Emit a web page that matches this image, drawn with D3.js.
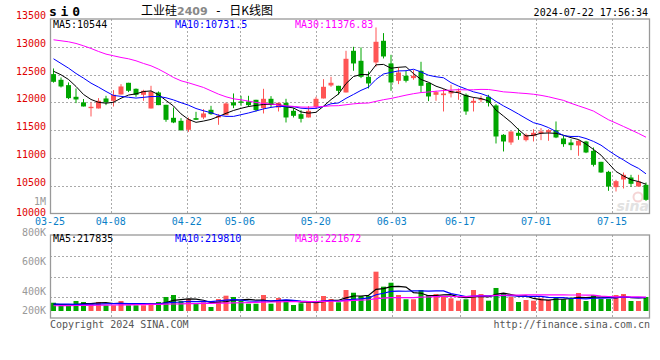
<!DOCTYPE html>
<html><head><meta charset="utf-8">
<script src="https://cdn.jsdelivr.net/npm/d3@7"></script>
<style>body{margin:0;background:#fff}svg{display:block}</style>
</head><body>
<svg id="c" width="660" height="360"></svg>
<script>
const dates = ["03-25","03-26","03-27","03-28","03-29","04-01","04-02","04-03","04-08","04-09","04-10","04-11","04-12","04-15","04-16","04-17","04-18","04-19","04-22","04-23","04-24","04-25","04-26","04-29","04-30","05-06","05-07","05-08","05-09","05-10","05-13","05-14","05-15","05-16","05-17","05-20","05-21","05-22","05-23","05-24","05-27","05-28","05-29","05-30","05-31","06-03","06-04","06-05","06-06","06-07","06-11","06-12","06-13","06-14","06-17","06-18","06-19","06-20","06-21","06-24","06-25","06-26","06-27","06-28","07-01","07-02","07-03","07-04","07-05","07-08","07-09","07-10","07-11","07-12","07-15","07-16","07-17","07-18","07-19","07-22"];
const open = [12508,12406,12310,12100,12000,11896,11890,12070,12028,12142,12352,12244,12136,11890,12178,11956,11722,11668,11506,11716,11728,11866,11728,11770,12000,12016,12016,12046,11896,12064,11908,11992,11848,11788,11728,11920,12070,12304,12298,12178,12928,12748,12460,12718,13108,12700,12388,12478,12436,12568,12352,12136,12130,12160,12178,12136,11992,12040,12100,11944,11416,11278,11452,11320,11392,11440,11458,11500,11350,11278,11224,11296,11128,10930,10750,10474,10612,10648,10486,10516];
const high = [12610,12448,12358,12250,12060,12000,12076,12118,12220,12328,12352,12250,12226,12298,12196,11956,11908,11716,11728,11830,11878,11938,11788,12000,12160,12118,12118,12046,12244,12112,11992,12064,11896,11860,11932,12100,12418,12460,12298,12928,13000,12988,12556,13348,13246,12856,12628,12568,12580,12730,12352,12208,12238,12316,12250,12160,12088,12118,12136,11968,11428,11476,11530,11440,11518,11536,11518,11656,11398,11338,11326,11308,11188,10930,10768,10606,10738,10696,10696,10558];
const low = [12355,12268,12058,11986,11926,11746,11890,11950,11926,12142,12184,12100,12028,11890,11950,11650,11626,11488,11470,11686,11698,11776,11596,11770,11896,11938,11920,11836,11800,11914,11836,11638,11728,11638,11728,11896,12070,12280,12136,12178,12568,12436,12250,12640,12790,12208,12328,12358,12406,12178,12022,12028,11836,12088,12046,11776,11836,12000,11926,11260,11116,11236,11326,11296,11296,11320,11308,11356,11200,11140,11038,11086,10846,10732,10408,10396,10450,10480,10486,10228];
const close = [12370,12286,12076,12052,11926,11920,12028,12000,12136,12286,12208,12136,12208,12190,11950,11686,11638,11500,11692,11686,11800,11788,11758,11980,11944,11992,11950,11860,12064,11956,11992,11728,11758,11704,11848,12064,12280,12352,12208,12784,12700,12460,12340,13090,12826,12358,12538,12388,12478,12298,12106,12184,12160,12208,12208,11836,12028,12064,11992,11386,11296,11476,11398,11416,11452,11476,11500,11368,11248,11230,11308,11098,10876,10738,10486,10582,10696,10534,10576,10246];
const volume = [134000,81000,81000,162000,146000,130000,146000,92000,92000,162000,92000,92000,92000,130000,146000,227000,259000,162000,194000,113000,141000,65000,194000,248000,227000,162000,118000,118000,259000,118000,211000,162000,97000,125000,146000,146000,243000,194000,141000,340000,296000,243000,243000,637000,394000,458000,259000,190000,190000,340000,259000,275000,243000,206000,167000,190000,340000,275000,167000,373000,292000,232000,146000,178000,167000,206000,178000,222000,190000,215000,292000,162000,259000,194000,194000,259000,275000,162000,162000,227000];

// moving-average values for the days before enough history is in view
const ma5Lead = [12560,12496,12412,12286];
const ma10Lead = [12784,12700,12616,12520,12436,12346,12274,12196,12124];
const ma30Lead = [13126,13108,13090,13060,13018,12970,12916,12868,12838,12808,12784,12748,12700,12658,12598,12526,12448,12388,12352,12310,12268,12208,12148,12100,12064,12046,12022,11998,11980];
const volMa5Lead = [110000,105000,100000,105000];
const volMa10Lead = [112000,110000,110000,108000,108000,110000,112000,115000,118000];
const volMa30Lead = [85000,86000,88000,89000,90000,92000,93000,95000,97000,99000,100000,102000,104000,106000,108000,110000,113000,116000,118000,120000,122000,124000,126000,128000,131000,134000,137000,140000,143000];

const tickDates = ["03-25","04-08","04-22","05-06","05-20","06-03","06-17","07-01","07-15"];
const priceTicks = [10000,10500,11000,11500,12000,12500,13000,13500];
const volTickValues = [1000000,800000,600000,400000,200000];
const volTickLabels = ["1M","800K","600K","400K","200K"];

const symbol = "s i 0";
const titleParts = ["工业硅","2409"," - ","日K线图"];
const stamp = "2024-07-22 17:56:34";
const priceMA = ["MA5:10544","MA10:10731.5","MA30:11376.83"];
const volMA = ["MA5:217835","MA10:219810","MA30:221672"];

const RED = "#ff5555", GREEN = "#00a600";
const MA_COL = ["#000000","#0000ff","#ff00ff"];
const MONO = "'DejaVu Sans Mono', monospace";
const N = close.length;

function movAvg(arr, n, lead){
  return arr.map((_, i) => i < n - 1 ? lead[i] : d3.mean(arr.slice(i - n + 1, i + 1)));
}

const svg = d3.select("#c");
const xb = d3.scaleBand().domain(d3.range(N)).range([50.5, 650.5]);
const gx = d3.scalePoint().domain(d3.range(N)).range([50, 650]);
const y = d3.scaleLinear().domain([10000, 13500]).range([213.5, 19]);
const vy = d3.scaleLinear().domain([0, 1000000]).range([311, 311 - 1000 / 16.2]);
const volLabelY = d3.scaleLinear().domain([0, 1000000]).range([351, 201]);
const volGrid = d3.scaleLinear().domain([0, 4]).range([235, 318]);
const cx = i => xb(i) + 3;
const bodyW = 5;

const tickIdx = tickDates.map(d => dates.indexOf(d));

// ---------- grids ----------
const g = svg.append("g");
g.selectAll(".hg").data(priceTicks.filter(v => v > 10000 && v < 13500)).enter().append("line")
  .attr("x1", 50).attr("x2", 650).attr("y1", d => Math.round(y(d)) + 0.5).attr("y2", d => Math.round(y(d)) + 0.5)
  .attr("stroke", "#aaa").attr("stroke-dasharray", "2,2");
g.selectAll(".vg").data(tickIdx.slice(1)).enter().append("line")
  .attr("x1", d => Math.round(gx(d)) + 0.5).attr("x2", d => Math.round(gx(d)) + 0.5)
  .attr("y1", 19).attr("y2", 213.5).attr("stroke", "#aaa").attr("stroke-dasharray", "2,2");
g.selectAll(".vhg").data([1,2,3]).enter().append("line")
  .attr("x1", 50).attr("x2", 650).attr("y1", d => Math.round(volGrid(d)) + 0.5).attr("y2", d => Math.round(volGrid(d)) + 0.5)
  .attr("stroke", "#aaa").attr("stroke-dasharray", "2,2");
g.selectAll(".vvg").data(tickIdx.slice(1)).enter().append("line")
  .attr("x1", d => Math.round(gx(d)) + 0.5).attr("x2", d => Math.round(gx(d)) + 0.5)
  .attr("y1", 235).attr("y2", 318).attr("stroke", "#aaa").attr("stroke-dasharray", "2,2");

// watermark
svg.append("circle").attr("cx", 638).attr("cy", 197).attr("r", 4.5).attr("fill", "none").attr("stroke", "#f5d5d5").attr("stroke-width", 2);
svg.append("text").attr("x", 649).attr("y", 211).attr("text-anchor", "end")
  .attr("font-family", "'DejaVu Sans', sans-serif").attr("font-weight", "bold").attr("font-style", "italic")
  .attr("font-size", 14).attr("fill", "#e2e2e2").text("sina");

// ---------- candles ----------
const idx = d3.range(N);
const col = i => close[i] >= open[i] ? RED : GREEN;
const cg = svg.append("g");
cg.selectAll(".wick").data(idx).enter().append("line")
  .attr("x1", cx).attr("x2", cx).attr("y1", i => y(high[i])).attr("y2", i => y(low[i]))
  .attr("stroke", col).attr("stroke-width", 1);
cg.selectAll(".body").data(idx).enter().append("rect")
  .attr("x", i => xb(i) + 0.5).attr("width", bodyW)
  .attr("y", i => y(Math.max(open[i], close[i])))
  .attr("height", i => Math.max(1, Math.abs(y(open[i]) - y(close[i]))))
  .attr("fill", col);

const line = d3.line().x((d, i) => cx(i)).y(d => y(d));
[movAvg(close, 5, ma5Lead), movAvg(close, 10, ma10Lead), movAvg(close, 30, ma30Lead)].forEach((s, k) => {
  svg.append("path").attr("d", line(s)).attr("fill", "none").attr("stroke", MA_COL[k]).attr("stroke-width", 1);
});

// ---------- volume ----------
svg.append("g").selectAll("rect").data(idx).enter().append("rect")
  .attr("x", i => xb(i) + 0.5).attr("width", bodyW)
  .attr("y", i => vy(volume[i])).attr("height", i => vy(0) - vy(volume[i]))
  .attr("fill", col);
const vline = d3.line().x((d, i) => cx(i)).y(d => vy(d));
[movAvg(volume, 5, volMa5Lead), movAvg(volume, 10, volMa10Lead), movAvg(volume, 30, volMa30Lead)].forEach((s, k) => {
  svg.append("path").attr("d", vline(s)).attr("fill", "none").attr("stroke", MA_COL[k]).attr("stroke-width", 1.2);
});

// frames
svg.append("rect").attr("x", 50.5).attr("y", 19).attr("width", 599).attr("height", 194.5)
  .attr("fill", "none").attr("stroke", "#999").attr("stroke-width", 1.3);
svg.append("rect").attr("x", 50.5).attr("y", 235).attr("width", 599).attr("height", 83)
  .attr("fill", "none").attr("stroke", "#999").attr("stroke-width", 1.3);

// ---------- texts ----------
const T = (x, yy, txt, fill, anchor, size) => svg.append("text").attr("x", x).attr("y", yy)
  .attr("text-anchor", anchor || "start").attr("font-family", MONO).attr("font-size", size || 10)
  .attr("fill", fill).text(txt);

priceTicks.forEach(v => T(46, y(v) + (v === 10000 ? 2 : 0), String(v), "#e00000", "end", 10));
tickIdx.forEach((ti, k) => T(gx(ti), 225, tickDates[k], "#0a7fc8", "middle", 10));
volTickValues.forEach((v, k) => T(46, Math.min(volLabelY(v), 310.7) + (v === 800000 ? 4.6 : 3.7), volTickLabels[k], "#999", "end", 10));

const maX = [53, 175, 295];
priceMA.forEach((t, k) => T(maX[k], 27.5, t, MA_COL[k], "start", 10));
volMA.forEach((t, k) => T(maX[k], 242, t, MA_COL[k], "start", 10));

T(648, 16, stamp, "#000", "end", 10);
svg.append("text").attr("x", 49).attr("y", 16).attr("font-family", MONO).attr("font-weight", "bold")
  .attr("font-size", 13).attr("textLength", 31).attr("lengthAdjust", "spacing").attr("fill", "#000").text(symbol);

const tt = svg.append("text").attr("x", 141).attr("y", 15).attr("font-size", 12)
  .attr("font-family", "'Noto Sans CJK SC', sans-serif");
tt.append("tspan").attr("fill", "#000").text(titleParts[0]);
tt.append("tspan").attr("fill", "#888").attr("font-family", "'DejaVu Sans', sans-serif").attr("font-weight", "bold").attr("font-size", 11).text(titleParts[1]);
tt.append("tspan").attr("fill", "#000").attr("font-family", MONO).attr("xml:space", "preserve").text(titleParts[2]);
tt.append("tspan").attr("fill", "#000").text(titleParts[3]);

T(50, 327.5, "Copyright 2024 SINA.COM", "#555", "start", 10);
T(650, 327.5, "http://finance.sina.com.cn", "#555", "end", 10);
</script>
</body></html>
